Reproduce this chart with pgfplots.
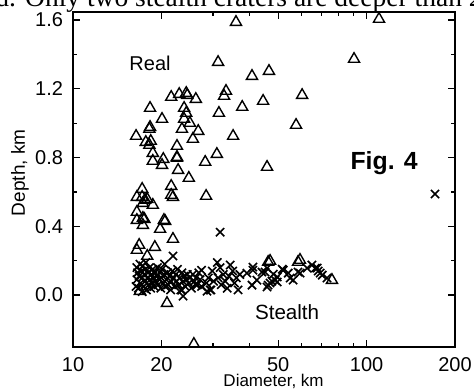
\documentclass[border=0pt]{standalone}
\usepackage{pgfplots}
\pgfplotsset{compat=1.18}
\usepackage{fontspec}
\setmainfont{Liberation Sans}
\newfontfamily\seriffont{Liberation Serif}
\usetikzlibrary{calc}

\pgfplotstableread{
x y
35.9 1.588
110.2 1.606
31.2 1.355
90.6 1.373
46.5 1.303
40.7 1.274
33.2 1.187
32.7 1.158
60.3 1.163
44.4 1.129
37.7 1.094
31.4 1.059
57.5 0.989
35.1 0.925
30.9 0.820
28.2 0.774
45.8 0.745
21.6 1.152
23.0 1.169
24.3 1.175
24.5 1.163
26.2 1.140
18.3 1.088
23.9 1.088
24.3 1.059
20.1 1.024
23.9 1.024
25.0 1.001
18.3 0.977
18.2 0.966
23.5 0.966
26.7 0.954
16.4 0.925
25.6 0.908
17.7 0.890
18.4 0.896
18.2 0.873
22.6 0.867
18.7 0.826
22.6 0.803
22.6 0.797
20.3 0.791
18.7 0.780
20.1 0.756
22.8 0.727
24.8 0.681
17.2 0.617
21.6 0.634
16.5 0.570
17.2 0.570
17.9 0.558
21.6 0.582
21.9 0.570
28.4 0.576
17.3 0.535
18.7 0.524
16.5 0.483
16.5 0.436
17.5 0.442
17.3 0.407
20.6 0.430
19.8 0.384
21.9 0.326
16.8 0.291
16.5 0.262
19.0 0.279
17.9 0.227
20.9 -0.047
25.8 -0.285
16.9 0.023
17.6 0.553
17.3 0.448
20.4 0.436
46.9 0.198
59.3 0.204
46.2 0.192
58.4 0.192
76.2 0.087
}\realdata

\pgfplotstableread{
x y
16.4 0.05
16.5 0.09
16.6 0.13
16.5 0.16
16.7 0.04
16.8 0.11
16.9 0.18
17.0 0.07
17.1 0.14
17.2 0.02
17.2 0.10
17.3 0.17
17.4 0.05
17.5 0.12
17.6 0.08
17.6 0.15
17.7 0.19
17.8 0.03
17.9 0.10
18.0 0.13
18.1 0.06
18.2 0.16
18.3 0.09
18.4 0.04
18.5 0.12
18.6 0.07
18.7 0.15
18.8 0.10
18.9 0.05
19.0 0.13
19.1 0.08
19.3 0.11
19.4 0.16
19.5 0.06
19.7 0.09
19.8 0.13
19.9 0.04
20.0 0.10
20.1 0.15
20.3 0.07
20.4 0.12
20.5 0.18
20.6 0.05
20.8 0.09
21.0 0.13
21.1 0.06
21.3 0.11
21.5 0.03
21.6 0.08
21.8 0.14
22.0 0.10
22.2 0.05
22.4 0.12
22.5 0.08
22.7 0.15
22.9 0.06
23.1 0.10
23.3 0.03
23.5 0.13
23.7 0.08
23.9 0.11
24.1 0.05
24.3 0.09
24.5 0.12
24.8 0.07
25.0 0.10
25.3 0.04
25.6 0.12
25.9 0.08
26.2 0.10
26.5 0.06
26.8 0.13
27.1 0.09
27.4 0.05
27.4 0.145
28.5 0.07
28.9 0.10
29.3 0.03
29.8 0.14
30.1 0.08
29.5 0.03
31.0 0.19
31.2 0.10
31.7 0.16
32.0 0.06
32.5 0.12
33.0 0.08
33.5 0.04
34.3 0.175
34.0 0.11
35.0 0.14
35.5 0.07
36.0 0.10
36.5 0.03
37.0 0.12
28.6 0.023
26.3 0.058
23.5 0.029
23.7 -0.006
39.1 0.128
41.0 0.145
40.7 0.058
41.0 0.163
42.3 0.087
44.0 0.134
45.1 0.134
45.8 0.157
45.8 0.047
46.2 0.058
46.9 0.070
47.6 0.081
48.1 0.122
48.8 0.087
49.6 0.076
49.6 0.105
51.6 0.151
52.0 0.145
54.1 0.128
54.9 0.099
56.2 0.087
58.4 0.134
59.4 0.128
62.7 0.157
65.1 0.175
66.9 0.157
67.9 0.157
68.4 0.140
69.5 0.128
70.6 0.116
73.3 0.099
171.0 0.588
31.7 0.366
21.9 0.227
}\stealthdata

\begin{document}
\begin{tikzpicture}
\begin{axis}[
  scale only axis, width=191pt, height=167.5pt,
  xmode=log, xmin=10, xmax=200, ymin=-0.302, ymax=1.647,
  xtick={10,20,50,100,200}, xticklabels={10,20,50,100,200},
  minor xtick={30,40,60,70,80,90},
  ytick={0,0.4,0.8,1.2,1.6}, yticklabels={0.0,0.4,0.8,1.2,1.6},
  minor ytick={0.2,0.6,1.0,1.4},
  tick align=inside, major tick length=3.5pt, minor tick length=2.2pt,
  tick style={black, line width=0.6pt},
  axis line style={line width=0.8pt},
  ticklabel style={font=\fontsize{10}{12}\selectfont},
  xticklabel style={yshift=-1.5pt},
  yticklabel style={xshift=-1.5pt},
  xlabel={Diameter, km}, ylabel={Depth, km},
  xlabel style={font=\fontsize{8.5}{10}\selectfont, at={(rel axis cs:0.525,0)}, anchor=base, yshift=-19.5pt},
  ylabel style={font=\fontsize{9.5}{11}\selectfont, at={(rel axis cs:0,0.52)}, anchor=center, rotate=0, yshift=26.5pt},
  clip=false,
]
\addplot[only marks, mark=triangle, mark size=3.2pt, mark options={line width=0.7pt, black}] table[x=x,y=y] {\realdata};
\addplot[only marks, mark=x, mark size=2.9pt, mark options={line width=0.8pt, black}] table[x=x,y=y] {\stealthdata};
\node[font=\fontsize{10}{12}\selectfont] at (axis cs:18.3,1.35) {Real};
\node[font=\fontsize{10.3}{12}\selectfont] at (axis cs:53.6,-0.099) {Stealth};
\node[font=\bfseries\fontsize{12.4}{14}\selectfont] at (axis cs:114.7,0.768) {Fig. 4};
\node[anchor=base west, inner sep=0pt, font=\seriffont\fontsize{13.75}{16}\selectfont] at ($(rel axis cs:0,1)+(-39pt,2.5pt)$) {d. Only two stealth craters are deeper than 200 m.};
\end{axis}
\pgfresetboundingbox
\path[use as bounding box] ($(current axis.south west)+(-36.5pt,-21.5pt)$) rectangle ($(current axis.north east)+(9.5pt,6pt)$);
\end{tikzpicture}
\end{document}
